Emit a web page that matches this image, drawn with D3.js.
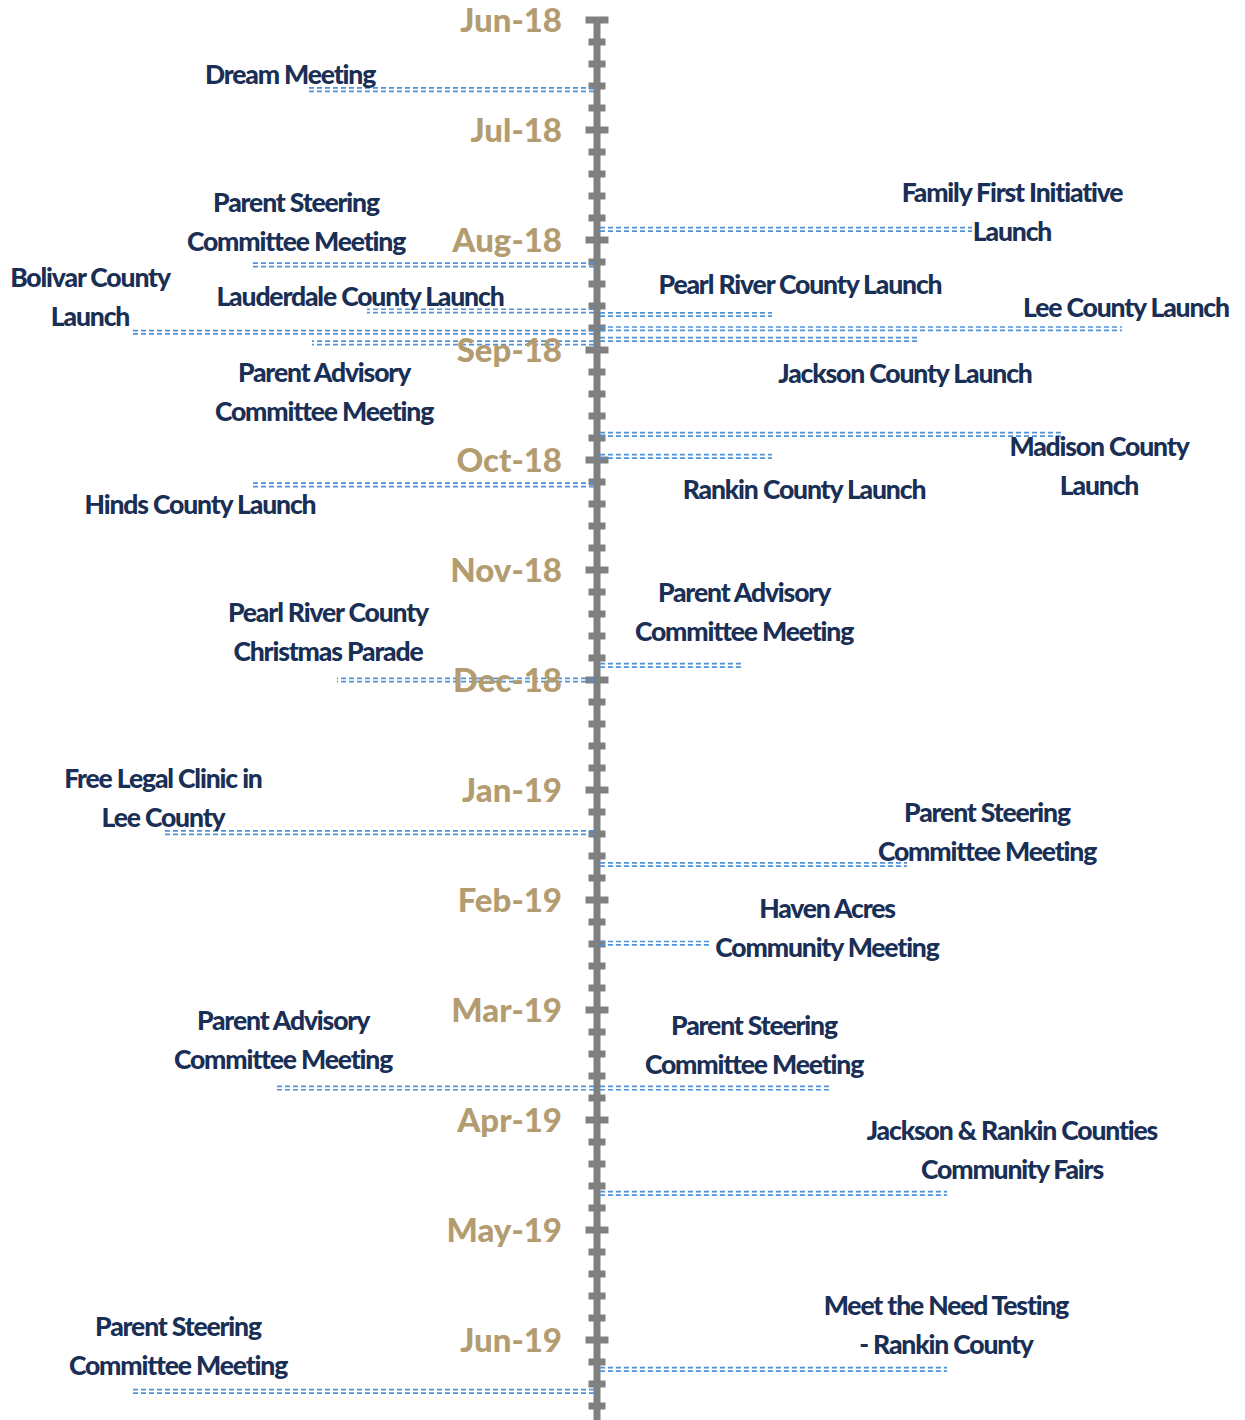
<!DOCTYPE html>
<html>
<head>
<meta charset="utf-8">
<script src="https://cdnjs.cloudflare.com/ajax/libs/d3/7.8.5/d3.min.js"></script>
<style>
  html, body { margin: 0; padding: 0; background: #fff; }
  svg { display: block; }
</style>
</head>
<body>
<div class="canvas"></div>
<script>
// months shown on the axis (Jun-18 .. Jun-19)
const monthLabels = ['Jun-18', 'Jul-18', 'Aug-18', 'Sep-18', 'Oct-18', 'Nov-18', 'Dec-18',
  'Jan-19', 'Feb-19', 'Mar-19', 'Apr-19', 'May-19', 'Jun-19']

// events
const eventNames = [
  ['Dream Meeting'],
  ['Parent Steering', 'Committee Meeting'],
  ['Bolivar County', 'Launch'],
  ['Lauderdale County Launch'],
  ['Parent Advisory', 'Committee Meeting'],
  ['Family First Initiative', 'Launch'],
  ['Pearl River County Launch'],
  ['Lee County Launch'],
  ['Jackson County Launch'],
  ['Madison County', 'Launch'],
  ['Rankin County Launch'],
  ['Hinds County Launch'],
  ['Pearl River County', 'Christmas Parade'],
  ['Parent Advisory', 'Committee Meeting'],
  ['Free Legal Clinic in', 'Lee County'],
  ['Parent Steering', 'Committee Meeting'],
  ['Haven Acres', 'Community Meeting'],
  ['Parent Advisory', 'Committee Meeting'],
  ['Parent Steering', 'Committee Meeting'],
  ['Jackson & Rankin Counties', 'Community Fairs'],
  ['Parent Steering', 'Committee Meeting'],
  ['Meet the Need Testing', '- Rankin County']
]
const eventDates = [
  '2018-06-20', '2018-08-08', '2018-08-27', '2018-08-21', '2018-08-30',
  '2018-07-29', '2018-08-22', '2018-08-26', '2018-08-29', '2018-09-24',
  '2018-09-30', '2018-10-08', '2018-12-01', '2018-11-27', '2019-01-13',
  '2019-01-22', '2019-02-12', '2019-03-23', '2019-03-23', '2019-04-21',
  '2019-06-15', '2019-06-09'
]
// signed lead length (negative = left of the axis)
const eventLeads = [
  -5.8, -6.9, -9.3, -4.6, -5.7,
  7.5, 3.5, 10.5, 6.4, 9.3,
  3.5, -6.9, -5.2, 2.9, -8.7,
  6.2, 2.3, -6.4, 4.7, 7.0,
  -9.3, 7.0
]

// label placement relative to the end of each lead line [dx, dy of first line]
const labelOffsets = [
  [-17, -15], [44, -62], [-42, -55], [-7, -15], [12, 30],
  [40, -37], [28, -30], [4, -21], [-12, 34], [37, 12],
  [32, 33], [-52, 20], [-9, -68], [2, -73], [1, -54],
  [80, -52], [115, -35], [6, -68], [-78, -63], [65, -63],
  [46, -65], [-1, -64]
]

const width = 1245
const height = 1420
const axisX = 597
const lineGap = 39

const svg = d3.select('.canvas')
  .append('svg')
  .attr('width', width)
  .attr('height', height)

// fractional month index from the first month (Jun 2018)
const monthIndex = s => {
  const d = d3.timeParse('%Y-%m-%d')(s)
  const start = d3.timeMonth.floor(d)
  const days = d3.timeDay.count(start, d3.timeMonth.offset(start, 1))
  const m = (d.getFullYear() - 2018) * 12 + d.getMonth() - 5
  return m + (d.getDate() - 1) / days
}

const y = d3.scaleLinear().domain([0, 12]).range([20, 1340])
const x = d3.scaleLinear().domain([0, 10]).range([axisX, axisX + 500])

const events = eventNames.map((name, i) => ({
  name,
  m: monthIndex(eventDates[i]),
  lead: eventLeads[i],
  off: labelOffsets[i]
}))

//? AXIS SPINE + TICKS
const axisG = svg.append('g')
axisG.append('line')
  .attr('x1', axisX).attr('x2', axisX)
  .attr('y1', y(0) - 3).attr('y2', height)
  .attr('stroke', '#808080')
  .attr('stroke-width', 7)

const minorTicks = d3.range(0, 12.8, 0.2).filter(v => Math.abs(v - Math.round(v)) > 0.01)
axisG.selectAll('.minor')
  .data(minorTicks)
  .join('line')
  .attr('class', 'minor')
  .attr('x1', axisX - 8.5).attr('x2', axisX + 8.5)
  .attr('y1', d => y(d)).attr('y2', d => y(d))
  .attr('stroke', '#808080')
  .attr('stroke-width', 7)

axisG.selectAll('.major')
  .data(d3.range(13))
  .join('line')
  .attr('class', 'major')
  .attr('x1', axisX - 11.5).attr('x2', axisX + 11.5)
  .attr('y1', d => y(d)).attr('y2', d => y(d))
  .attr('stroke', '#808080')
  .attr('stroke-width', 7)

//? LEADER LINES (double dashed)
const leads = svg.append('g')
events.forEach(e => {
  ;[-1.7, 1.7].forEach(off => {
    leads.append('line')
      .attr('x1', axisX + (e.lead < 0 ? -3 : 3))
      .attr('x2', x(e.lead))
      .attr('y1', y(e.m) + off)
      .attr('y2', y(e.m) + off)
      .attr('stroke', '#4f93d6')
      .attr('stroke-width', 1.7)
      .attr('stroke-dasharray', '5,3')
  })
})

//? MONTH LABELS
const monthAxis = d3.axisLeft(y)
  .tickValues(d3.range(13))
  .tickFormat(i => monthLabels[i])
  .tickSize(0)
  .tickPadding(0)

svg.append('g')
  .attr('transform', `translate(562, 0)`)
  .call(monthAxis)
  .call(g => g.select('.domain').remove())
  .selectAll('text')
  .attr('fill', '#b39c70')
  .attr('font-family', 'Lato, "Open Sans", sans-serif')
  .attr('font-weight', 900)
  .attr('font-size', 33)
  .attr('dy', '0.36em')

//? EVENT LABELS
const labels = svg.append('g')
  .attr('font-family', 'Lato, "Open Sans", sans-serif')
  .attr('font-weight', 900)
  .attr('font-size', 26.5)
  .attr('letter-spacing', -1.15)
  .attr('fill', '#1a2f55')
  .attr('text-anchor', 'middle')

events.forEach(e => {
  const cx = x(e.lead) + e.off[0]
  const cy = y(e.m) + e.off[1]
  const t = labels.append('text')
    .attr('x', cx)
    .attr('y', cy)
  e.name.forEach((line, j) => {
    t.append('tspan')
      .attr('x', cx)
      .attr('y', cy + j * lineGap)
      .attr('dy', '0.36em')
      .text(line)
  })
})
</script>
</body>
</html>
